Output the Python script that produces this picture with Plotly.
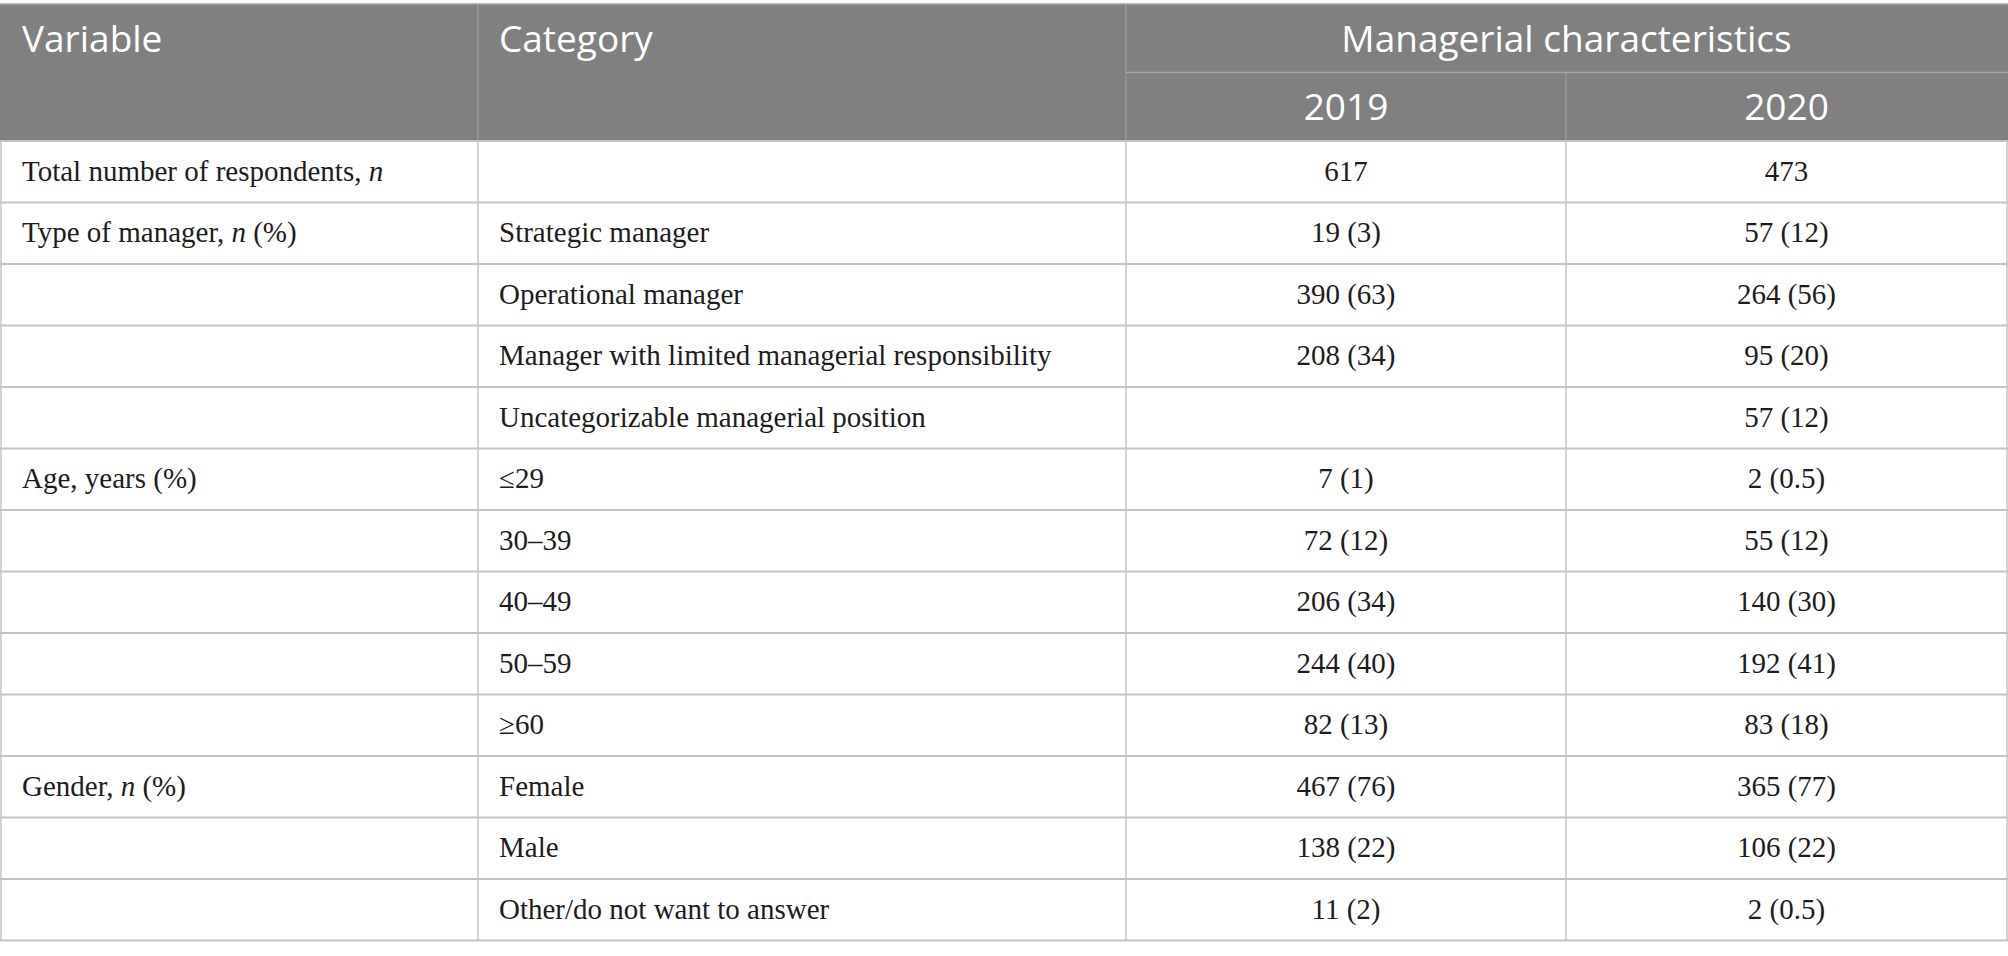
import plotly.graph_objects as go

# table content
variables = [
    "Total number of respondents, <i>n</i>",
    "Type of manager, <i>n</i> (%)", "", "", "",
    "Age, years (%)", "", "", "", "",
    "Gender, <i>n</i> (%)", "", "",
]
categories = [
    "",
    "Strategic manager",
    "Operational manager",
    "Manager with limited managerial responsibility",
    "Uncategorizable managerial position",
    "≤29", "30–39", "40–49", "50–59", "≥60",
    "Female", "Male", "Other/do not want to answer",
]
values_2019 = ["617", "19 (3)", "390 (63)", "208 (34)", "", "7 (1)", "72 (12)",
               "206 (34)", "244 (40)", "82 (13)", "467 (76)", "138 (22)", "11 (2)"]
values_2020 = ["473", "57 (12)", "264 (56)", "95 (20)", "57 (12)", "2 (0.5)", "55 (12)",
               "140 (30)", "192 (41)", "83 (18)", "365 (77)", "106 (22)", "2 (0.5)"]
header_top = ["Variable", "Category", "Managerial characteristics"]
header_years = ["2019", "2020"]

# layout (pixels of the browser window)
W, H = 2008, 956
col_x = [1, 478, 1126, 1566, 2007]
y_top, y_mid, y_head = 4, 72.5, 141
row_h = 61.5
pad = 21

HEAD_FILL = "#7f807f"
HEAD_LINE = "#a3a4a3"
BODY_LINE = "#c4c4c4"
SANS = "Open Sans"
SERIF = "Liberation Serif"

n_rows = len(categories)
y_bot = y_head + n_rows * row_h
row_c = [y_head + (i + 0.5) * row_h + 1.5 for i in range(n_rows)]

fig = go.Figure()

shapes = [
    dict(type="rect", x0=0, x1=W, y0=y_top, y1=y_head,
         fillcolor=HEAD_FILL, line_width=0, layer="below"),
    # header grid
    dict(type="line", x0=0, x1=W, y0=y_top, y1=y_top,
         line=dict(color=HEAD_LINE, width=1.5)),
    dict(type="line", x0=col_x[2], x1=W, y0=y_mid, y1=y_mid,
         line=dict(color=HEAD_LINE, width=1.5)),
    dict(type="line", x0=col_x[3], x1=col_x[3], y0=y_mid, y1=y_head,
         line=dict(color=HEAD_LINE, width=1)),
]
for x in col_x[1:3]:
    shapes.append(dict(type="line", x0=x, x1=x, y0=y_top, y1=y_head,
                       line=dict(color=HEAD_LINE, width=1)))
# body grid
for i in range(n_rows + 1):
    y = y_head + i * row_h
    shapes.append(dict(type="line", x0=0, x1=W, y0=y, y1=y,
                       line=dict(color=BODY_LINE, width=2)))
for x in col_x:
    shapes.append(dict(type="line", x0=x, x1=x, y0=y_head, y1=y_bot,
                       line=dict(color=BODY_LINE, width=1.5)))

# header text
head_font = dict(family=SANS, size=37, color="white")
fig.add_trace(go.Scatter(
    x=[col_x[0] + pad, col_x[1] + pad],
    y=[(y_top + y_mid) / 2 + 4] * 2,
    text=header_top[:2], mode="text", textposition="middle right",
    textfont=head_font, hoverinfo="skip",
))
fig.add_trace(go.Scatter(
    x=[(col_x[2] + col_x[4]) / 2, (col_x[2] + col_x[3]) / 2, (col_x[3] + col_x[4]) / 2],
    y=[(y_top + y_mid) / 2 + 4, (y_mid + y_head) / 2 + 4, (y_mid + y_head) / 2 + 4],
    text=[header_top[2]] + header_years, mode="text", textposition="middle center",
    textfont=head_font, hoverinfo="skip",
))

# body text
body_font = dict(family=SERIF, size=29, color="#1e1c1d")
fig.add_trace(go.Scatter(
    x=[col_x[0] + pad] * n_rows, y=row_c, text=variables,
    mode="text", textposition="middle right", textfont=body_font, hoverinfo="skip",
))
fig.add_trace(go.Scatter(
    x=[col_x[1] + pad] * n_rows, y=row_c, text=categories,
    mode="text", textposition="middle right", textfont=body_font, hoverinfo="skip",
))
fig.add_trace(go.Scatter(
    x=[(col_x[2] + col_x[3]) / 2] * n_rows, y=row_c, text=values_2019,
    mode="text", textposition="middle center", textfont=body_font, hoverinfo="skip",
))
fig.add_trace(go.Scatter(
    x=[(col_x[3] + col_x[4]) / 2] * n_rows, y=row_c, text=values_2020,
    mode="text", textposition="middle center", textfont=body_font, hoverinfo="skip",
))

fig.update_layout(
    width=W, height=H,
    margin=dict(l=0, r=0, t=0, b=0),
    paper_bgcolor="white", plot_bgcolor="white",
    showlegend=False, shapes=shapes,
    xaxis=dict(range=[0, W], visible=False, fixedrange=True),
    yaxis=dict(range=[H, 0], visible=False, fixedrange=True),
)

# drop the default page margin so the table fills the window
fig.write_html(
    "out.html",
    config={"displayModeBar": False},
    post_script="document.body.style.margin = '0';",
)
